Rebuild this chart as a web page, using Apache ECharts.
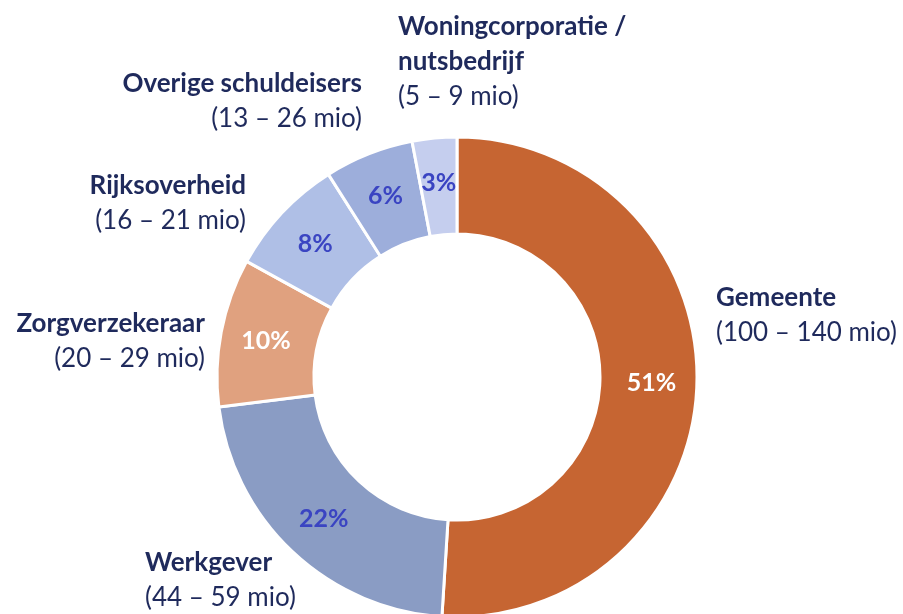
<!DOCTYPE html>
<html>
<head>
<meta charset="utf-8">
<script src="https://cdn.jsdelivr.net/npm/echarts@6/dist/echarts.min.js"></script>
<style>
  html, body { margin: 0; padding: 0; background: #ffffff; }
  #chart { width: 903px; height: 614px; }
</style>
</head>
<body>
<div id="chart"></div>
<script>
// Schuldeisers: aandeel in de totale schuld (%) en bandbreedte in miljoen euro
const categories = ['Gemeente', 'Werkgever', 'Zorgverzekeraar', 'Rijksoverheid', 'Overige schuldeisers', 'Woningcorporatie /\nnutsbedrijf'];
const shares = [51, 22, 10, 8, 6, 3];
const rangeLow = [100, 44, 20, 16, 13, 5];
const rangeHigh = [140, 59, 29, 21, 26, 9];

const sliceColors = ['#C66532', '#8A9CC4', '#E0A17F', '#AFBFE6', '#9DAEDB', '#C5CEEE'];
const pctColors = ['#FFFFFF', '#3A44C2', '#FFFFFF', '#3A44C2', '#3A44C2', '#3A44C2'];

// Placement of the name labels around the ring: [x, y, align]
const labelSpots = [
  [716, 315, 'left'],
  [145, 580, 'left'],
  [205, 341, 'right'],
  [246, 203, 'right'],
  [362, 101, 'right'],
  [398, 62, 'left']
];

const FONT = 'Lato, "Open Sans", sans-serif';
const NAVY = '#1F2A5C';

const pieData = categories.map((name, i) => ({
  name: name,
  value: shares[i],
  itemStyle: { color: sliceColors[i] },
  label: { color: pctColors[i] }
}));

const nameData = categories.map((name, i) => ({
  name: name,
  value: shares[i]
}));

const chart = echarts.init(document.getElementById('chart'), null, { renderer: 'canvas' });

chart.setOption({
  animation: false,
  backgroundColor: '#ffffff',
  series: [
    {
      type: 'pie',
      center: [457, 377],
      radius: [143, 240],
      startAngle: 90,
      clockwise: true,
      avoidLabelOverlap: false,
      itemStyle: { borderColor: '#ffffff', borderWidth: 3 },
      label: {
        show: true,
        position: 'inside',
        formatter: p => p.value + '%',
        fontFamily: FONT,
        fontWeight: 'bold',
        fontSize: 25
      },
      labelLine: { show: false },
      emphasis: { disabled: true },
      data: pieData
    },
    {
      type: 'pie',
      center: [457, 377],
      radius: [143, 240],
      startAngle: 90,
      clockwise: true,
      silent: true,
      avoidLabelOverlap: false,
      itemStyle: { color: 'rgba(0,0,0,0)', borderWidth: 0 },
      label: {
        show: true,
        position: 'outside',
        formatter: p => {
          const i = p.dataIndex;
          const lines = categories[i].split('\n').map(s => '{b|' + s + '}');
          lines.push('{r|(' + rangeLow[i] + ' \u2013 ' + rangeHigh[i] + ' mio)}');
          return lines.join('\n');
        },
        rich: {
          b: { fontFamily: FONT, fontWeight: 'bold', fontSize: 26, color: NAVY, lineHeight: 35 },
          r: { fontFamily: FONT, fontWeight: 'normal', fontSize: 26, color: NAVY, lineHeight: 35 }
        }
      },
      labelLine: { show: false },
      labelLayout: params => {
        const s = labelSpots[params.dataIndex];
        return { x: s[0], y: s[1], align: s[2], verticalAlign: 'middle', hideOverlap: false };
      },
      emphasis: { disabled: true },
      data: nameData,
      z: 3
    }
  ]
});
</script>
</body>
</html>
